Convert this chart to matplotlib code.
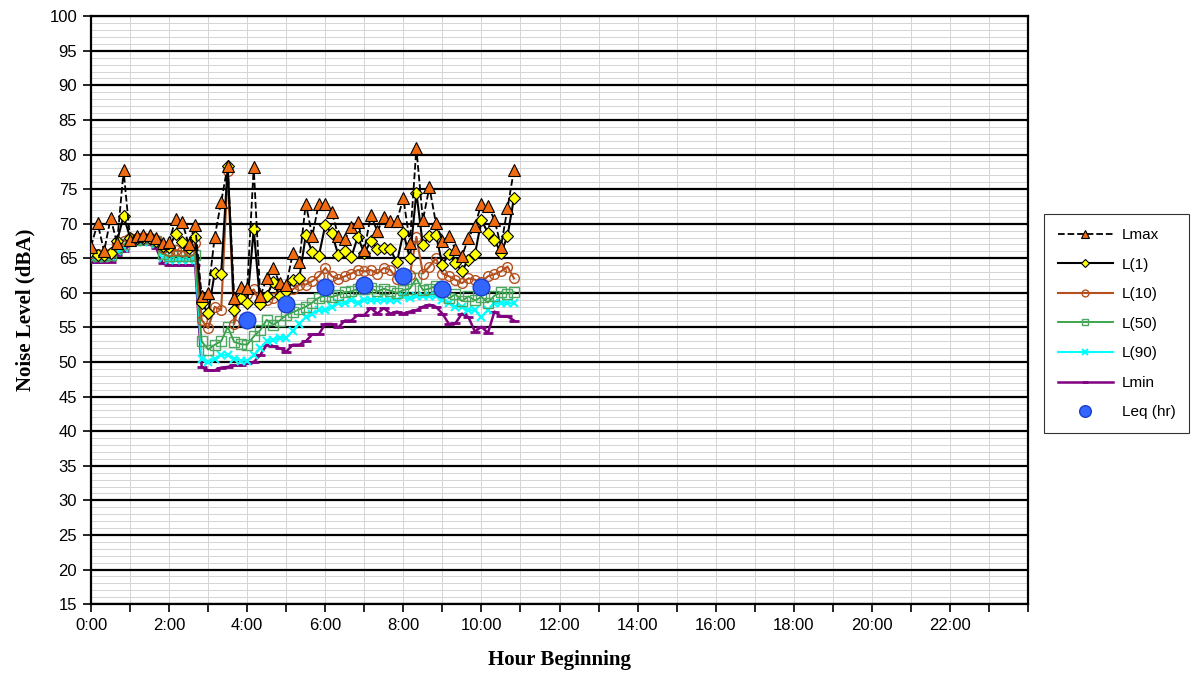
import numpy as np
import matplotlib
matplotlib.use("Agg")
import matplotlib.pyplot as plt
from matplotlib.ticker import MultipleLocator, FixedLocator

# 10-minute interval readings, 0:00 .. 10:50
lmax = [66.7, 70.1, 66.0, 70.8, 67.2, 77.7, 67.7, 68.2, 68.4, 68.3, 68.0, 67.2,
        67.4, 70.7, 70.3, 67.0, 69.8, 59.5, 60.0, 68.1, 73.2, 78.4, 59.2, 60.9,
        60.7, 78.2, 59.5, 62.1, 63.6, 61.4, 61.1, 65.7, 64.5, 72.9, 68.2, 72.9,
        72.8, 71.7, 68.2, 67.8, 69.5, 70.3, 66.2, 71.2, 68.9, 70.9, 70.4, 70.4,
        73.7, 67.2, 80.9, 70.5, 75.3, 70.1, 67.5, 68.2, 66.3, 65.3, 67.9, 69.7,
        72.9, 72.5, 70.6, 66.7, 72.2, 77.8]
l1 = [66.0, 65.5, 65.5, 65.8, 67.5, 71.1, 68.0, 68.0, 68.0, 68.0, 67.5, 66.8,
      66.6, 68.5, 67.4, 66.5, 68.1, 58.5, 57.1, 62.9, 62.8, 78.3, 57.5, 59.2,
      58.5, 69.2, 58.4, 59.6, 61.6, 59.5, 60.2, 61.8, 62.1, 68.3, 65.9, 65.3,
      69.8, 68.6, 65.5, 66.1, 65.2, 68.1, 65.7, 67.5, 66.4, 66.5, 66.3, 64.4,
      68.7, 65.0, 74.5, 66.9, 68.2, 68.4, 64.1, 65.6, 64.3, 63.2, 64.8, 65.6,
      70.5, 68.7, 67.7, 65.7, 68.2, 73.7]
l10 = [65.8, 65.6, 65.6, 65.8, 67.0, 67.5, 68.0, 68.0, 68.1, 68.0, 67.6, 66.5,
       66.0, 66.2, 66.0, 66.0, 67.2, 56.1, 54.9, 58.0, 57.5, 77.6, 55.5, 59.5,
       59.8, 60.5, 58.5, 59.0, 59.2, 59.9, 60.3, 60.5, 61.2, 61.2, 61.7, 62.4,
       63.6, 62.4, 62.0, 62.4, 62.8, 63.3, 63.1, 63.3, 62.8, 63.6, 63.3, 62.0,
       62.4, 62.6, 68.1, 62.8, 63.8, 65.0, 62.8, 62.4, 61.9, 61.4, 62.1, 61.9,
       61.6, 62.4, 62.7, 63.1, 63.8, 62.1]
l50 = [65.5, 65.3, 65.3, 65.5, 66.5, 67.0, 67.6, 67.7, 67.8, 67.8, 67.5, 65.6,
       65.3, 65.3, 65.3, 65.3, 65.5, 53.0, 51.8, 52.5, 53.0, 55.1, 52.9, 52.6,
       52.5, 53.7, 54.6, 56.1, 55.4, 56.0, 56.8, 57.2, 57.6, 58.0, 58.6, 59.3,
       59.6, 59.4, 59.7, 60.1, 60.2, 60.6, 60.5, 60.7, 60.2, 60.6, 60.3, 60.0,
       60.4, 60.6, 62.1, 60.4, 60.6, 61.0, 60.2, 59.2, 59.8, 58.8, 59.5, 58.9,
       59.4, 58.6, 59.6, 60.1, 59.9, 60.1]
l90 = [65.2, 65.1, 65.1, 65.2, 66.0, 66.5, 67.3, 67.3, 67.4, 67.3, 67.0, 65.0,
       64.8, 64.8, 64.8, 64.8, 64.9, 50.5, 50.0, 50.5, 51.0, 51.0, 50.5, 50.2,
       50.2, 51.0, 52.0, 53.0, 53.2, 53.5, 53.5, 54.5, 55.5, 56.5, 57.0, 57.5,
       57.5, 58.0, 58.5, 58.5, 59.0, 58.5, 59.0, 59.0, 59.0, 59.0, 59.0, 59.0,
       59.5, 59.2, 59.5, 59.5, 59.5, 59.5, 59.0, 58.5, 58.0, 58.0, 57.5, 57.5,
       56.5, 57.5, 58.5, 58.5, 58.5, 58.5]
lmin = [64.5, 64.4, 64.4, 64.5, 65.5, 66.0, 67.0, 67.0, 67.0, 67.0, 66.5, 64.3,
        64.0, 64.0, 64.0, 64.0, 64.0, 49.3, 48.8, 48.8, 49.2, 49.3, 49.5, 49.5,
        49.8, 50.0, 51.0, 52.5, 52.3, 52.0, 51.5, 52.5, 52.5, 53.0, 54.0, 54.0,
        55.5, 55.5, 55.0, 56.0, 56.0, 56.8, 56.8, 57.8, 57.0, 57.8, 57.0, 57.3,
        57.0, 57.3, 57.5, 58.0, 58.3, 58.0, 57.0, 55.5, 55.6, 57.0, 56.5, 54.4,
        55.1, 54.2, 57.3, 56.6, 56.6, 56.0]
leq_hours = [4, 5, 6, 7, 8, 9, 10]
leq = [56.1, 58.4, 60.8, 61.1, 62.4, 60.5, 60.9]

hours = np.arange(len(lmax)) * 10 / 60.0

fig = plt.figure(figsize=(12.03, 6.75), dpi=100)
ax = fig.add_axes([0.0757, 0.105, 0.7788, 0.871])

ax.plot(hours, lmin, color='#800080', lw=1.8, marker='_', ms=7, mew=2,
        label='Lmin', zorder=3)
ax.plot(hours, l90, color='#00FFFF', lw=1.5, marker='x', ms=6, mew=1.5,
        label='L(90)', zorder=4)
ax.plot(hours, l50, color='#2E9E3E', lw=1.3, marker='s', ms=7,
        mfc='none', mec='#4CA860', label='L(50)', zorder=5)
ax.plot(hours, l10, color='#B5501E', lw=1.5, marker='o', ms=7,
        mfc='none', mec='#B5501E', label='L(10)', zorder=6)
ax.plot(hours, l1, color='black', lw=1.5, marker='D', ms=6,
        mfc='#FFFF00', mec='black', mew=0.8, label='L(1)', zorder=7)
ax.plot(hours, lmax, color='black', lw=1.3, ls='--', marker='^', ms=8,
        mfc='#F26B10', mec='black', mew=0.8, label='Lmax', zorder=8)
ax.plot(leq_hours, leq, ls='none', marker='o', ms=12, mfc='#3366FF',
        mec='#1A3FCC', label='Leq (hr)', zorder=9)

ax.set_xlim(0, 24)
ax.set_ylim(15, 100)
ax.yaxis.set_major_locator(MultipleLocator(5))
ax.yaxis.set_minor_locator(MultipleLocator(1))
ax.xaxis.set_major_locator(FixedLocator(np.arange(0, 24, 2)))
ax.xaxis.set_minor_locator(MultipleLocator(1))
ax.set_xticklabels([f"{h}:00" for h in range(0, 24, 2)])

ax.grid(which='minor', axis='y', color='#d4d4d4', lw=0.7)
ax.grid(which='major', axis='y', color='black', lw=1.6)
ax.grid(which='minor', axis='x', color='#d4d4d4', lw=0.7)
ax.grid(which='major', axis='x', color='#d4d4d4', lw=0.7)
ax.set_axisbelow(True)

for s in ax.spines.values():
    s.set_linewidth(1.6)
ax.tick_params(axis='both', which='major', direction='out', length=6,
               width=1.2, labelsize=12, pad=4)
ax.tick_params(axis='x', which='minor', direction='out', length=6, width=1.2)
ax.tick_params(axis='y', which='minor', length=0)
for lab in ax.get_xticklabels() + ax.get_yticklabels():
    lab.set_fontfamily('Liberation Sans')

ax.set_ylabel('Noise Level (dBA)', fontfamily='Liberation Serif',
              fontweight='bold', fontsize=15, labelpad=10)
ax.set_xlabel('Hour Beginning', fontfamily='Liberation Serif',
              fontweight='bold', fontsize=15, labelpad=12)

handles, labels = ax.get_legend_handles_labels()
order = ['Lmax', 'L(1)', 'L(10)', 'L(50)', 'L(90)', 'Lmin', 'Leq (hr)']
idx = [labels.index(o) for o in order]
leg = ax.legend([handles[i] for i in idx], [labels[i] for i in idx],
                loc='center left', bbox_to_anchor=(1.017, 0.477),
                frameon=True, fancybox=False, edgecolor='black',
                prop={'family': 'Liberation Sans', 'size': 11},
                labelspacing=1.02, handlelength=3.6, borderpad=0.9,
                borderaxespad=0, markerscale=0.7, handletextpad=0.6)
leg.get_frame().set_linewidth(0.8)

fig.savefig('out.png', dpi=100)
